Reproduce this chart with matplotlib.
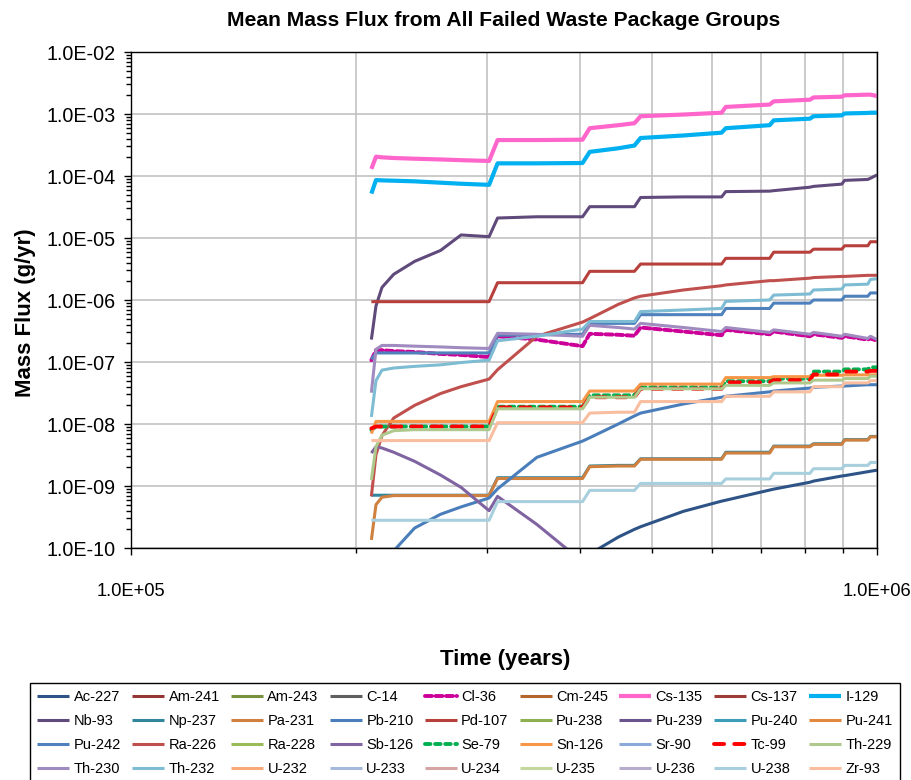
import numpy as np
import matplotlib
matplotlib.use("Agg")
import matplotlib.pyplot as plt
from matplotlib.ticker import FuncFormatter, LogLocator, NullFormatter, FixedLocator

plt.rcParams['font.family'] = ['Liberation Sans Narrow', 'Liberation Sans', 'DejaVu Sans']

# common time grid (years) for all release curves
years = [2.10e5, 2.13e5, 2.17e5, 2.25e5, 2.40e5, 2.60e5, 2.77e5, 3.02e5, 3.10e5,
         3.50e5, 4.03e5, 4.12e5, 4.50e5, 4.73e5, 4.82e5, 5.50e5, 6.19e5, 6.27e5,
         7.18e5, 7.27e5, 8.13e5, 8.22e5, 8.97e5, 9.05e5, 9.72e5, 9.80e5, 1.00e6]

nuclides = ["Ac-227", "Am-241", "Am-243", "C-14", "Cl-36", "Cm-245", "Cs-135", "Cs-137", "I-129",
            "Nb-93", "Np-237", "Pa-231", "Pb-210", "Pd-107", "Pu-238", "Pu-239", "Pu-240", "Pu-241",
            "Pu-242", "Ra-226", "Ra-228", "Sb-126", "Se-79", "Sn-126", "Sr-90", "Tc-99", "Th-229",
            "Th-230", "Th-232", "U-232", "U-233", "U-234", "U-235", "U-236", "U-238", "Zr-93"]

colors = ["#2E5386", "#943634", "#76923C", "#5F5F5F", "#CC0099", "#B3662D", "#FF66CC", "#9E3A38", "#00B0F0",
          "#604A7B", "#31869B", "#D0813F", "#4A7EBB", "#B7403D", "#8FB050", "#6B548E", "#3C9DB8", "#E3893F",
          "#4F81BD", "#C0504D", "#9BBB59", "#8064A2", "#00B050", "#F79646", "#8DA9DB", "#FF0000", "#AEC98B",
          "#9F8BBF", "#7EBCD4", "#F7A97A", "#A6B9DC", "#D6A4A3", "#C3D69B", "#B8ACCC", "#A8CFDD", "#F9BE9F"]

# mean mass flux, g/yr
ac227 = [np.nan] * 10 + [5e-11, 8e-11, 1.5e-10, 2.0e-10, 2.2e-10, 3.9e-10, 5.7e-10, 5.9e-10, 8.6e-10,
                         8.9e-10, 1.15e-9, 1.2e-9, 1.45e-9, 1.47e-9, 1.7e-9, 1.73e-9, 1.8e-9]
cl36 = [1.07e-7, 1.55e-7, 1.55e-7, 1.5e-7, 1.45e-7, 1.35e-7, 1.3e-7, 1.2e-7, 2.6e-7, 2.3e-7, 1.8e-7,
        2.85e-7, 2.75e-7, 2.65e-7, 3.6e-7, 3.1e-7, 2.7e-7, 3.3e-7, 2.8e-7, 3.1e-7, 2.6e-7, 2.8e-7,
        2.45e-7, 2.6e-7, 2.3e-7, 2.4e-7, 2.2e-7]
cs135 = [1.3e-4, 2.05e-4, 2.0e-4, 1.95e-4, 1.9e-4, 1.85e-4, 1.8e-4, 1.75e-4, 3.8e-4, 3.8e-4, 3.85e-4,
         5.9e-4, 6.6e-4, 7.1e-4, 9.2e-4, 9.8e-4, 1.05e-3, 1.3e-3, 1.42e-3, 1.6e-3, 1.7e-3, 1.85e-3,
         1.9e-3, 2.0e-3, 2.05e-3, 2.05e-3, 1.95e-3]
i129 = [5.2e-5, 8.6e-5, 8.5e-5, 8.4e-5, 8.2e-5, 7.8e-5, 7.5e-5, 7.2e-5, 1.6e-4, 1.6e-4, 1.62e-4,
        2.45e-4, 2.8e-4, 3.1e-4, 4.1e-4, 4.5e-4, 5.0e-4, 5.9e-4, 6.6e-4, 7.9e-4, 8.4e-4, 9.2e-4,
        9.5e-4, 1.02e-3, 1.04e-3, 1.05e-3, 1.05e-3]
nb93 = [2.3e-7, 8e-7, 1.6e-6, 2.6e-6, 4.2e-6, 6.3e-6, 1.12e-5, 1.05e-5, 2.1e-5, 2.2e-5, 2.2e-5,
        3.2e-5, 3.2e-5, 3.2e-5, 4.5e-5, 4.6e-5, 4.6e-5, 5.6e-5, 5.7e-5, 5.8e-5, 6.6e-5, 6.8e-5,
        7.4e-5, 8.5e-5, 8.8e-5, 9.2e-5, 1.04e-4]
np237 = [7.1e-10] * 8 + [1.36e-9, 1.36e-9, 1.36e-9, 2.1e-9, 2.15e-9, 2.15e-9, 2.75e-9, 2.75e-9, 2.75e-9,
                         3.5e-9, 3.5e-9, 4.4e-9, 4.4e-9, 4.8e-9, 4.8e-9, 5.6e-9, 5.6e-9, 6.3e-9, 6.3e-9]
pa231 = [1.35e-10, 5e-10, 6.6e-10, 7e-10, 7e-10, 7e-10, 7e-10, 7e-10, 1.32e-9, 1.32e-9, 1.32e-9,
         2.05e-9, 2.1e-9, 2.1e-9, 2.7e-9, 2.7e-9, 2.7e-9, 3.4e-9, 3.4e-9, 4.3e-9, 4.3e-9, 4.7e-9,
         4.7e-9, 5.5e-9, 5.5e-9, 6.2e-9, 6.2e-9]
pb210 = [1.5e-11, 3e-11, 5e-11, 9e-11, 2.1e-10, 3.5e-10, 4.6e-10, 6.4e-10, 9e-10, 2.9e-9, 5.3e-9,
         6.0e-9, 1.0e-8, 1.35e-8, 1.5e-8, 2.1e-8, 2.7e-8, 2.8e-8, 3.3e-8, 3.4e-8, 3.8e-8, 3.9e-8,
         4.1e-8, 4.1e-8, 4.3e-8, 4.3e-8, 4.3e-8]
pd107 = [9.4e-7] * 8 + [1.9e-6, 1.9e-6, 1.9e-6, 2.9e-6, 2.9e-6, 2.9e-6, 3.8e-6, 3.8e-6, 3.8e-6,
                        4.7e-6, 4.7e-6, 5.9e-6, 5.9e-6, 6.6e-6, 6.6e-6, 7.5e-6, 7.5e-6, 8.7e-6, 8.7e-6]
pu242 = [1.1e-7, 1.4e-7, 1.4e-7, 1.4e-7, 1.4e-7, 1.4e-7, 1.4e-7, 1.4e-7, 2.7e-7, 2.75e-7, 2.8e-7,
         4.2e-7, 4.2e-7, 4.2e-7, 5.8e-7, 5.8e-7, 5.8e-7, 7.3e-7, 7.3e-7, 8.9e-7, 8.9e-7, 1.0e-6,
         1.0e-6, 1.15e-6, 1.15e-6, 1.3e-6, 1.3e-6]
ra226 = [6.8e-10, 3.2e-9, 6.5e-9, 1.25e-8, 2.0e-8, 3.1e-8, 4.0e-8, 5.3e-8, 7.5e-8, 2.6e-7, 4.4e-7,
         5.0e-7, 8.5e-7, 1.08e-6, 1.15e-6, 1.45e-6, 1.7e-6, 1.75e-6, 2.05e-6, 2.05e-6, 2.25e-6,
         2.3e-6, 2.4e-6, 2.4e-6, 2.5e-6, 2.5e-6, 2.5e-6]
sb126 = [3.4e-9, 4.3e-9, 4.1e-9, 3.5e-9, 2.5e-9, 1.5e-9, 9.5e-10, 4.0e-10, 6.8e-10, 2.4e-10, 6e-11] \
    + [np.nan] * 16
se79 = [8e-9] + [9.1e-9] * 7 + [1.9e-8, 1.9e-8, 1.9e-8, 2.9e-8, 2.9e-8, 2.9e-8, 3.9e-8, 3.9e-8, 3.9e-8,
                                4.9e-8, 4.9e-8, 5.4e-8, 5.4e-8, 7.0e-8, 7.0e-8, 7.6e-8, 7.6e-8, 8.2e-8, 8.2e-8]
sn126 = [7e-9] + [1.1e-8] * 7 + [2.3e-8, 2.3e-8, 2.3e-8, 3.4e-8, 3.4e-8, 3.4e-8, 4.4e-8, 4.4e-8, 4.4e-8,
                                 5.6e-8, 5.6e-8, 5.8e-8, 5.8e-8, 6.1e-8, 6.1e-8, 6.2e-8, 6.2e-8, 6.2e-8, 6.2e-8]
tc99 = [8.5e-9] + [9.1e-9] * 7 + [1.85e-8, 1.85e-8, 1.85e-8, 2.7e-8, 2.7e-8, 2.7e-8, 3.7e-8, 3.7e-8, 3.7e-8,
                                  4.7e-8, 4.7e-8, 5.1e-8, 5.1e-8, 6.3e-8, 6.3e-8, 7.0e-8, 7.0e-8, 7.2e-8, 7.2e-8]
th229 = [1.25e-9, 4.3e-9, 6.6e-9, 7.8e-9, 8.1e-9, 8.1e-9, 8.1e-9, 8.1e-9, 1.76e-8, 1.76e-8, 1.76e-8,
         2.7e-8, 2.7e-8, 2.7e-8, 3.7e-8, 3.7e-8, 3.7e-8, 4.2e-8, 4.2e-8, 4.6e-8, 4.6e-8, 5.1e-8,
         5.1e-8, 5.4e-8, 5.4e-8, 5.9e-8, 5.9e-8]
th230 = [3.2e-8, 1.6e-7, 1.85e-7, 1.85e-7, 1.8e-7, 1.75e-7, 1.7e-7, 1.65e-7, 2.9e-7, 2.8e-7, 2.6e-7,
         3.9e-7, 3.6e-7, 3.4e-7, 4.2e-7, 3.6e-7, 3.1e-7, 3.6e-7, 3.0e-7, 3.3e-7, 2.8e-7, 3.0e-7,
         2.6e-7, 2.8e-7, 2.4e-7, 2.6e-7, 2.3e-7]
th232 = [1.3e-8, 5e-8, 7.4e-8, 8.0e-8, 8.5e-8, 9.0e-8, 9.8e-8, 1.07e-7, 2.2e-7, 2.6e-7, 3.4e-7,
         4.5e-7, 4.5e-7, 4.5e-7, 6.5e-7, 6.9e-7, 7.3e-7, 9.5e-7, 1.0e-6, 1.2e-6, 1.25e-6, 1.45e-6,
         1.5e-6, 1.75e-6, 1.8e-6, 2.15e-6, 2.2e-6]
u238 = [2.8e-10] * 8 + [5.6e-10, 5.6e-10, 5.6e-10, 8.5e-10, 8.5e-10, 8.5e-10, 1.1e-9, 1.1e-9, 1.1e-9,
                        1.3e-9, 1.3e-9, 1.6e-9, 1.6e-9, 1.9e-9, 1.9e-9, 2.15e-9, 2.15e-9, 2.4e-9, 2.4e-9]
zr93 = [5.4e-9] * 8 + [1.05e-8, 1.05e-8, 1.05e-8, 1.5e-8, 1.55e-8, 1.55e-8, 2.3e-8, 2.3e-8, 2.3e-8,
                       2.8e-8, 2.8e-8, 3.3e-8, 3.3e-8, 4.0e-8, 4.0e-8, 4.6e-8, 4.6e-8, 5.0e-8, 5.0e-8]

# nuclides whose flux stays below 1E-10 have no curve inside the plot
flux = {"Ac-227": ac227, "Cl-36": cl36, "Cs-135": cs135, "I-129": i129, "Nb-93": nb93,
        "Np-237": np237, "Pa-231": pa231, "Pb-210": pb210, "Pd-107": pd107, "Pu-242": pu242,
        "Ra-226": ra226, "Sb-126": sb126, "Se-79": se79, "Sn-126": sn126, "Tc-99": tc99,
        "Th-229": th229, "Th-230": th230, "Th-232": th232, "U-238": u238, "Zr-93": zr93}

dashed = {"Cl-36": (1.8, 0.9), "Se-79": (1.4, 1.2), "Tc-99": (2.6, 2.6)}
thick = {"Cs-135", "I-129"}

fig = plt.figure(figsize=(9.12, 7.8), dpi=100)
ax = fig.add_axes([131 / 912, 1 - 548 / 780, 746 / 912, 496 / 780])

handles = []
for name, col in zip(nuclides, colors):
    y = flux.get(name, [])
    x = years if len(y) else []
    if name in dashed:
        h, = ax.plot(x, y, color=col, lw=2.8, dashes=dashed[name], dash_capstyle='round', label=name)
    else:
        lw = 3.0 if name in thick else 2.2
        h, = ax.plot(x, y, color=col, lw=lw, solid_capstyle='butt', label=name)
    handles.append(h)

ax.set_xscale('log')
ax.set_yscale('log')
ax.set_xlim(1e5, 1e6)
ax.set_ylim(1e-10, 1e-2)

sci = FuncFormatter(lambda v, pos: f"{v:.1E}")
ax.xaxis.set_major_locator(FixedLocator([1e5, 1e6]))
ax.xaxis.set_major_formatter(sci)
ax.xaxis.set_minor_locator(LogLocator(base=10, subs=np.arange(2, 10), numticks=20))
ax.xaxis.set_minor_formatter(NullFormatter())
ax.yaxis.set_major_locator(LogLocator(base=10, numticks=20))
ax.yaxis.set_major_formatter(sci)
ax.yaxis.set_minor_locator(LogLocator(base=10, subs=np.arange(2, 10), numticks=20))
ax.yaxis.set_minor_formatter(NullFormatter())

ax.grid(True, which='major', axis='y', color='#BDBDBD', lw=1.1)
ax.grid(True, which='both', axis='x', color='#BDBDBD', lw=1.1)
ax.set_axisbelow(True)
ax.tick_params(axis='both', which='major', direction='out', length=5, width=1)
ax.tick_params(axis='both', which='minor', direction='out', length=3.5, width=1)
ax.tick_params(axis='x', which='major', pad=20, labelsize=13.2)
ax.tick_params(axis='y', which='major', pad=6, labelsize=14.2)
for sp in ax.spines.values():
    sp.set_color('black')
    sp.set_linewidth(1.0)

fig.text(504 / 912, 1 - 21 / 780, "Mean Mass Flux from All Failed Waste Package Groups",
         ha='center', va='center', fontsize=15.2, fontweight='bold')
fig.text(505 / 912, 1 - 660 / 780, "Time (years)", ha='center', va='center',
         fontsize=16, fontweight='bold')
fig.text(26 / 912, 1 - 313 / 780, "Mass Flux (g/yr)", ha='center', va='center',
         rotation=90, fontsize=16, fontweight='bold')

# legend is filled column by column, so reorder to read across rows
ncol, nrow = 9, 4
order = [r * ncol + c for c in range(ncol) for r in range(nrow)]
leg_top = 1 - 683 / 780
leg = fig.legend([handles[i] for i in order], [nuclides[i] for i in order],
                 ncol=ncol, loc='upper left', bbox_to_anchor=(30 / 912, 0, 870 / 912, leg_top),
                 mode='expand', fontsize=10.5, handlelength=2.2, handletextpad=0.3,
                 labelspacing=0.68, borderaxespad=0, borderpad=0.5, fancybox=False, framealpha=1)
leg.get_frame().set_edgecolor('black')
leg.get_frame().set_linewidth(1.0)

fig.savefig("out.png", dpi=100)
